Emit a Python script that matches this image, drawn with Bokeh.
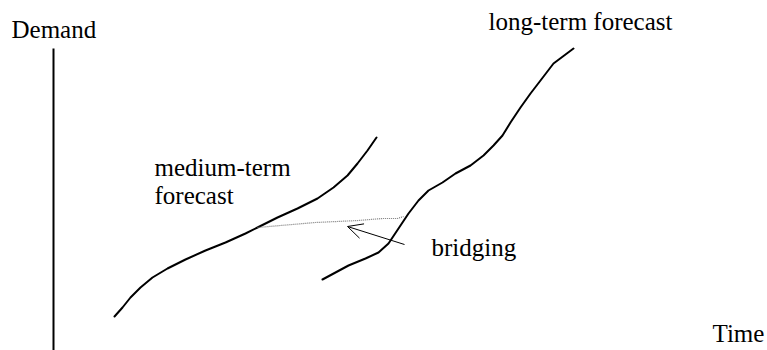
from bokeh.plotting import figure
from bokeh.models import Range1d, Label, Arrow, OpenHead
from bokeh.embed import file_html
from bokeh.resources import INLINE

# Conceptual curves (x = time, y = demand), arbitrary units
medium_x = [114, 122, 130, 140, 152, 167, 185, 205, 225, 245, 257, 277, 297, 317, 333, 347, 357, 367, 376]
medium_y = [34, 43, 53, 63, 73, 82, 91, 100, 108, 117, 123, 133, 142, 152, 163, 175, 187, 200, 213]

long_x = [322, 335, 348, 365, 378, 388, 398, 408, 418, 428, 442, 455, 470, 483, 493, 502, 510, 520, 530, 540, 553, 573]
long_y = [71, 78, 85, 92, 98, 107, 122, 137, 150, 160, 168, 177, 185, 195, 205, 215, 228, 243, 257, 270, 287, 302]

bridge_x = [257, 315, 358, 382, 397, 403]
bridge_y = [123, 128, 130, 132, 132, 134]

labels = ["Demand", "medium-term", "forecast", "long-term forecast", "bridging", "Time"]

FONT = "Liberation Serif"
FS = "25px"

p = figure(width=767, height=350, output_backend="svg", toolbar_location=None,
           x_range=Range1d(0, 767), y_range=Range1d(0, 350), min_border=0)
p.xaxis.visible = False
p.yaxis.visible = False
p.xgrid.visible = False
p.ygrid.visible = False
p.outline_line_color = None
p.background_fill_color = "white"
p.border_fill_color = "white"

# demand axis line
p.segment(x0=[53], y0=[302], x1=[53], y1=[-10], line_color="black", line_width=2)

p.line(medium_x, medium_y, line_color="black", line_width=2, line_join="round", line_cap="round")
p.line(long_x, long_y, line_color="black", line_width=2, line_join="round", line_cap="round")
p.line(bridge_x, bridge_y, line_color="#777777", line_width=1.2, line_dash="1 1")

p.add_layout(Arrow(end=OpenHead(size=15, line_width=1, line_color="black"),
                   x_start=404, y_start=106, x_end=347, y_end=124,
                   line_width=1, line_color="black"))

positions = [(11, 321), (154, 183), (154, 155), (488, 329), (431, 103), (712, 17)]
for txt, (lx, ly) in zip(labels, positions):
    p.add_layout(Label(x=lx, y=ly, text=txt, text_font=FONT, text_font_size=FS,
                       text_color="black", text_baseline="alphabetic", text_align="left"))

open("out.html", "w").write(file_html(p, INLINE))
